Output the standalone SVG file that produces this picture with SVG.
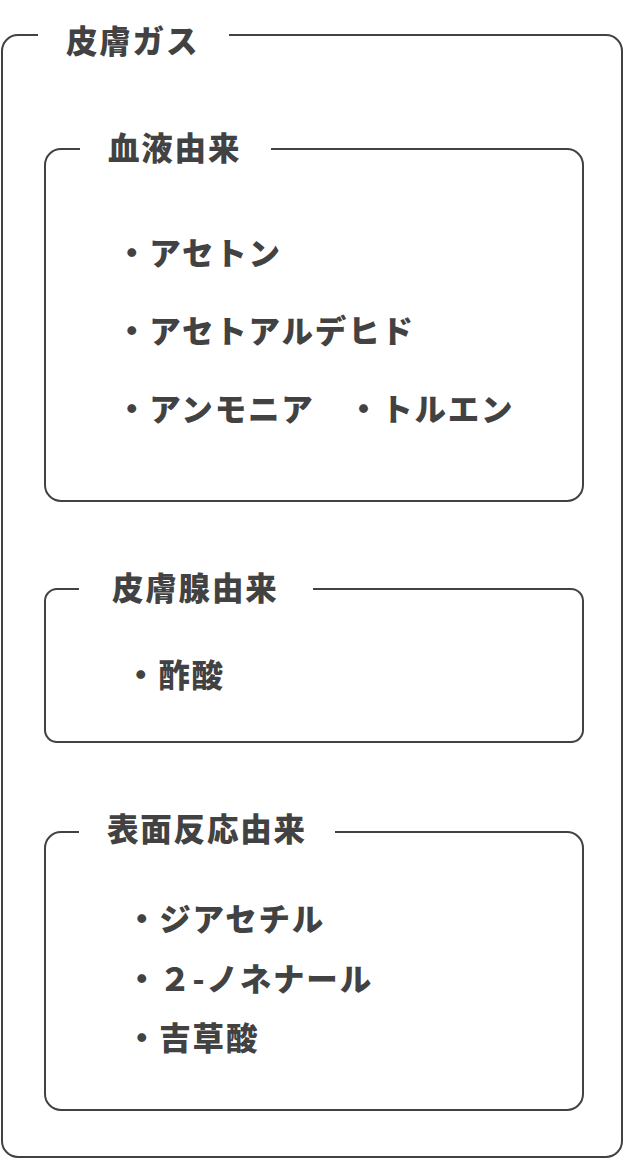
<svg xmlns="http://www.w3.org/2000/svg" width="623" height="1159" viewBox="0 0 623 1159">
<style>
.frame{fill:none;stroke:#424242;stroke-width:2}
.t{font-family:"Noto Sans CJK JP","Noto Sans",sans-serif;font-weight:900;font-size:31.5px;letter-spacing:1.8px;fill:#424242}
</style>
<rect width="623" height="1159" fill="#ffffff"/>
<g id="outer">
<path class="frame" d="M229,35 H606 A16,16 0 0 1 622,51 V1141 A16,16 0 0 1 606,1157 H18 A16,16 0 0 1 2,1141 V51 A16,16 0 0 1 18,35 H38"/>
<text class="t" x="66" y="53">皮膚ガス</text>
</g>
<g id="blood">
<path class="frame" d="M271,149 H567 A16,16 0 0 1 583,165 V485 A16,16 0 0 1 567,501 H61 A16,16 0 0 1 45,485 V165 A16,16 0 0 1 61,149 H80"/>
<text class="t" x="108" y="160">血液由来</text>
<text class="t" x="116" y="265">・アセトン</text>
<text class="t" x="116" y="343">・アセトアルデヒド</text>
<text class="t" x="116" y="421">・アンモニア　・トルエン</text>
</g>
<g id="gland">
<path class="frame" d="M313,589 H571 A12,12 0 0 1 583,601 V730 A12,12 0 0 1 571,742 H57 A12,12 0 0 1 45,730 V601 A12,12 0 0 1 57,589 H79"/>
<text class="t" x="112" y="600">皮膚腺由来</text>
<text class="t" x="125" y="687">・酢酸</text>
</g>
<g id="surface">
<path class="frame" d="M335,832 H567 A16,16 0 0 1 583,848 V1094 A16,16 0 0 1 567,1110 H61 A16,16 0 0 1 45,1094 V848 A16,16 0 0 1 61,832 H79"/>
<text class="t" x="107" y="841">表面反応由来</text>
<text class="t" x="126" y="931">・ジアセチル</text>
<text class="t" x="126" y="991">・２-ノネナール</text>
<text class="t" x="126" y="1050">・吉草酸</text>
</g>
<g id="connectors"></g>
</svg>
